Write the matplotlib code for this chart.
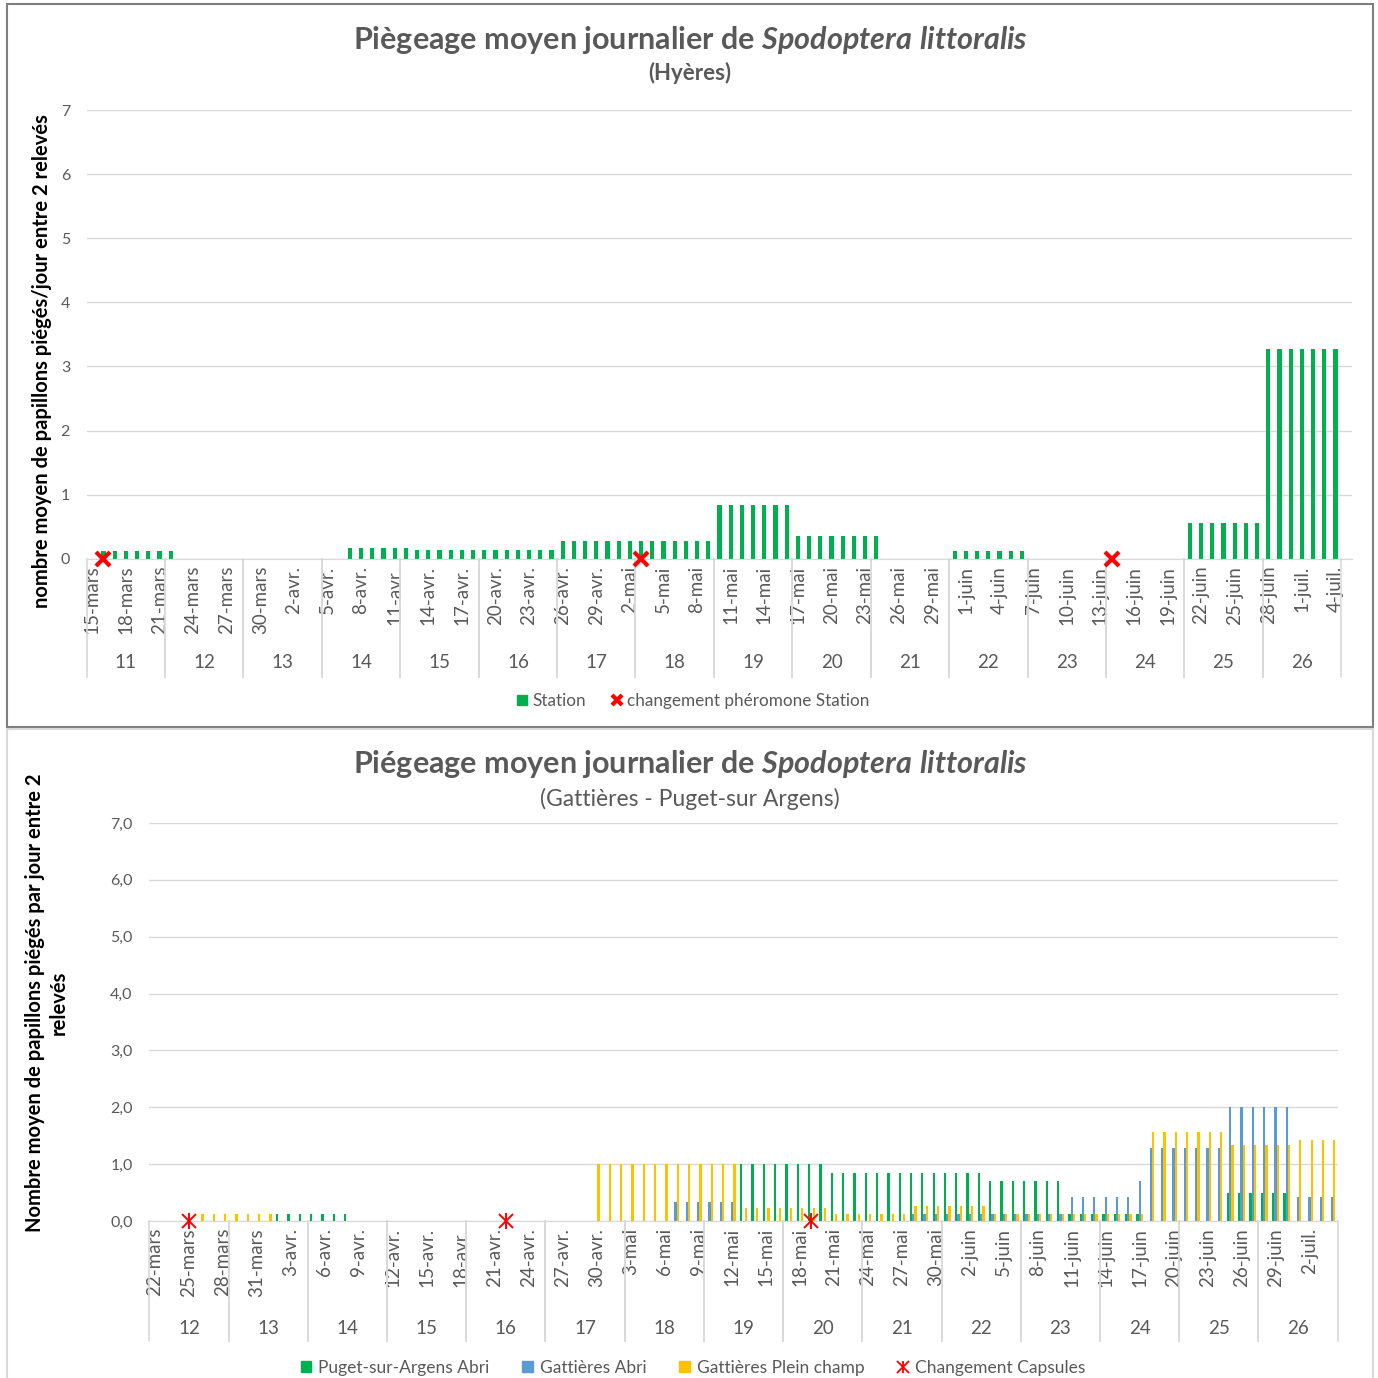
import numpy as np
import pandas as pd
import matplotlib
matplotlib.use('Agg')
import matplotlib.pyplot as plt
import matplotlib.transforms as mtransforms
from matplotlib.lines import Line2D
from matplotlib.patches import Patch, Rectangle
from matplotlib.legend_handler import HandlerTuple

plt.rcParams['font.family'] = ['Lato', 'DejaVu Sans']
plt.rcParams['mathtext.fontset'] = 'custom'
plt.rcParams['mathtext.it'] = 'Lato:italic:bold'
plt.rcParams['mathtext.rm'] = 'Lato:bold'

GREEN = '#00B050'
BLUE = '#5B9BD5'
ORANGE = '#FFC000'
RED = '#FF0000'
GREY = '#595959'
GRID = '#D9D9D9'

# --- Hyères : valeurs par période entre deux relevés (début, fin, moyenne/jour)
hyeres_debut, hyeres_fin = '2021-03-15', '2021-07-05'
hyeres_semaines = list(range(11, 27))
station = [('2021-03-16', '2021-03-22', 0.125),
           ('2021-04-07', '2021-04-12', 0.17),
           ('2021-04-13', '2021-04-25', 0.14),
           ('2021-04-26', '2021-05-09', 0.27),
           ('2021-05-10', '2021-05-16', 0.84),
           ('2021-05-17', '2021-05-24', 0.35),
           ('2021-05-31', '2021-06-06', 0.125),
           ('2021-06-21', '2021-06-27', 0.55),
           ('2021-06-28', '2021-07-04', 3.27)]
station_changements = ['2021-03-16', '2021-05-03', '2021-06-14']

# --- Gattières / Puget-sur-Argens
gatt_debut, gatt_fin = '2021-03-22', '2021-07-04'
gatt_semaines = list(range(12, 27))
puget_abri = [('2021-04-02', '2021-04-08', 0.13),
              ('2021-05-13', '2021-05-20', 1.0),
              ('2021-05-21', '2021-06-03', 0.85),
              ('2021-06-04', '2021-06-10', 0.70),
              ('2021-06-11', '2021-06-17', 0.13),
              ('2021-06-25', '2021-06-30', 0.5)]
gatt_abri = [('2021-05-07', '2021-05-12', 0.33),
             ('2021-05-28', '2021-06-03', 0.13),
             ('2021-06-04', '2021-06-10', 0.13),
             ('2021-06-11', '2021-06-16', 0.43),
             ('2021-06-17', '2021-06-17', 0.70),
             ('2021-06-18', '2021-06-24', 1.29),
             ('2021-06-25', '2021-06-30', 2.0),
             ('2021-07-01', '2021-07-04', 0.43)]
gatt_champ = [('2021-03-26', '2021-04-01', 0.125),
              ('2021-04-30', '2021-05-12', 1.0),
              ('2021-05-13', '2021-05-20', 0.22),
              ('2021-05-21', '2021-05-27', 0.12),
              ('2021-05-28', '2021-06-03', 0.27),
              ('2021-06-04', '2021-06-10', 0.13),
              ('2021-06-11', '2021-06-17', 0.13),
              ('2021-06-18', '2021-06-24', 1.57),
              ('2021-06-25', '2021-06-30', 1.33),
              ('2021-07-01', '2021-07-04', 1.42)]
capsules_changements = ['2021-03-25', '2021-04-22', '2021-05-19']

y_ticks_hyeres = ['0', '1', '2', '3', '4', '5', '6', '7']
y_ticks_gatt = ['0,0', '1,0', '2,0', '3,0', '4,0', '5,0', '6,0', '7,0']
MOIS = {3: 'mars', 4: 'avr.', 5: 'mai', 6: 'juin', 7: 'juil.'}

W = 1378.0


def journalier(jours, periodes):
    s = pd.Series(0.0, index=jours)
    for d0, d1, v in periodes:
        s.loc[d0:d1] = v
    return s.values


def position(jours, dates):
    return np.array([jours.get_loc(pd.Timestamp(d)) for d in dates])


def fy(px):
    return 1 - px / W


def axe_dates(ax, jours, semaines, y_sep, y_sem, y_ticks):
    n = len(jours)
    ax.set_xlim(-0.5, n - 0.5)
    ax.set_ylim(0, 7)
    ax.set_yticks(range(8), y_ticks)
    ax.yaxis.grid(True, color=GRID, lw=1.0)
    ax.set_axisbelow(True)
    for s in ['top', 'right', 'left']:
        ax.spines[s].set_visible(False)
    ax.spines['bottom'].set_color(GRID)
    pos = np.arange(0, n, 3)
    labels = [f'{d.day}-{MOIS[d.month]}' for d in jours[pos]]
    ax.set_xticks(pos, labels, rotation=90, fontsize=13.5, color=GREY)
    ax.tick_params(axis='x', length=0, pad=5)
    ax.tick_params(axis='y', length=0, labelsize=11.5, labelcolor=GREY, pad=12)

    trans = mtransforms.blended_transform_factory(ax.transData, fig.transFigure)
    iso = jours.isocalendar().week.values
    y0 = ax.get_position().y0
    for w in semaines:
        idx = np.where(iso == w)[0]
        a, b = idx[0] - 0.5, idx[-1] + 0.5
        for xx in (a, b):
            ax.plot([xx, xx], [y0, fy(y_sep)], color=GRID, lw=1.2,
                    transform=trans, clip_on=False)
        ax.text((a + b) / 2, fy(y_sem), str(w), transform=trans,
                ha='center', va='center', fontsize=13.5, color=GREY)


fig = plt.figure(figsize=(W / 100, W / 100), dpi=100)

# ---------------- Graphique 1 : Hyères
jours_h = pd.date_range(hyeres_debut, hyeres_fin)
ax1 = fig.add_axes([86.7 / W, fy(558.7), (1352.3 - 86.7) / W, (558.7 - 110) / W])
x_h = np.arange(len(jours_h))
ax1.bar(x_h, journalier(jours_h, station), width=0.36, color=GREEN, zorder=2)
ch = position(jours_h, station_changements)
ax1.plot(ch, np.zeros(len(ch)), 'x', color=RED, ms=10, mew=3, clip_on=False, zorder=5)
axe_dates(ax1, jours_h, hyeres_semaines, 677, 663, y_ticks_hyeres)

fig.text(690 / W, fy(40), r'Piègeage moyen journalier de $\mathit{Spodoptera\ littoralis}$',
         ha='center', va='center', fontsize=22, fontweight='bold', color=GREY)
fig.text(690 / W, fy(73), '(Hyères)', ha='center', va='center',
         fontsize=16, fontweight='bold', color=GREY)
fig.text(42 / W, fy(361), 'nombre moyen de papillons piégés/jour entre 2 relevés',
         rotation=90, ha='center', va='center', fontsize=14.5, fontweight='bold', color='black')

h1 = [Patch(color=GREEN),
      Line2D([], [], ls='none', marker='x', color=RED, ms=7, mew=3)]
fig.legend(h1, ['Station', 'changement phéromone Station'], loc='center',
           bbox_to_anchor=(693 / W, fy(701)), ncol=2, frameon=False, fontsize=12.3,
           labelcolor=GREY, handlelength=0.6, handleheight=0.6, handletextpad=0.3,
           columnspacing=1.5)

fig.patches.append(Rectangle((6.5 / W, fy(727)), (1373 - 6.5) / W, (727 - 4) / W,
                             transform=fig.transFigure, fill=False,
                             edgecolor='#7F7F7F', lw=1.5))

# ---------------- Graphique 2 : Gattières - Puget-sur Argens
jours_g = pd.date_range(gatt_debut, gatt_fin)
ax2 = fig.add_axes([149.3 / W, fy(1221), (1337.7 - 149.3) / W, (1221 - 823) / W])
x_g = np.arange(len(jours_g))
bw = 0.2
ax2.bar(x_g - bw, journalier(jours_g, puget_abri), width=bw, color=GREEN, zorder=2)
ax2.bar(x_g, journalier(jours_g, gatt_abri), width=bw, color=BLUE, zorder=2)
ax2.bar(x_g + bw, journalier(jours_g, gatt_champ), width=bw, color=ORANGE, zorder=2)
cg = position(jours_g, capsules_changements)
ax2.plot(cg, np.zeros(len(cg)), 'x', color=RED, ms=10, mew=1.4, clip_on=False, zorder=5)
ax2.plot(cg, np.zeros(len(cg)), '|', color=RED, ms=11, mew=1.4, clip_on=False, zorder=5)
axe_dates(ax2, jours_g, gatt_semaines, 1341, 1328, y_ticks_gatt)

fig.text(690 / W, fy(764), r'Piégeage moyen journalier de $\mathit{Spodoptera\ littoralis}$',
         ha='center', va='center', fontsize=22, fontweight='bold', color=GREY)
fig.text(690 / W, fy(799), '(Gattières - Puget-sur Argens)', ha='center', va='center',
         fontsize=16.5, color=GREY)
fig.text(47 / W, fy(1003), 'Nombre moyen de papillons piégés par jour entre 2\nrelevés',
         rotation=90, ha='center', va='center', ma='center', fontsize=14.5,
         fontweight='bold', color='black', linespacing=1.25)

ast = (Line2D([], [], ls='none', marker='x', color=RED, ms=8, mew=1.3),
       Line2D([], [], ls='none', marker='|', color=RED, ms=9, mew=1.3))
h2 = [Patch(color=GREEN), Patch(color=BLUE), Patch(color=ORANGE), ast]
fig.legend(h2, ['Puget-sur-Argens Abri', 'Gattières Abri', 'Gattières Plein champ',
                'Changement Capsules'], loc='center',
           bbox_to_anchor=(693 / W, fy(1368)), ncol=4, frameon=False, fontsize=12.5,
           labelcolor=GREY, handlelength=0.6, handleheight=0.6, handletextpad=0.4,
           columnspacing=1.9, handler_map={tuple: HandlerTuple(ndivide=1)})

fig.patches.append(Rectangle((7 / W, fy(1390)), (1373 - 7) / W, (1390 - 729) / W,
                             transform=fig.transFigure, fill=False,
                             edgecolor=GRID, lw=1.5, clip_on=False))

fig.savefig('out.png', dpi=100)
